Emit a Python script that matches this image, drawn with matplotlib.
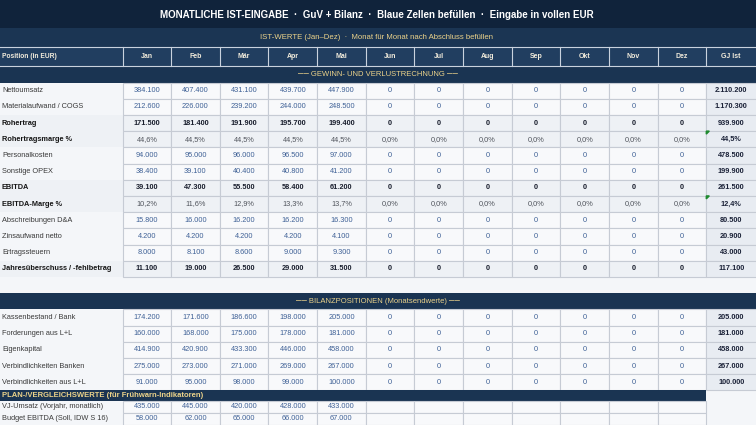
import matplotlib
matplotlib.use('Agg')
from matplotlib import pyplot as plt
from matplotlib.patches import Rectangle, Polygon

plt.rcParams['font.family'] = ['Liberation Sans', 'DejaVu Sans']

# Daten (Jan-Dez, Jun-Dez noch leer = 0)
months = ['Jan', 'Feb', 'Mär', 'Apr', 'Mai', 'Jun', 'Jul', 'Aug', 'Sep', 'Okt', 'Nov', 'Dez']

nettoumsatz = [384100, 407400, 431100, 439700, 447900, 0, 0, 0, 0, 0, 0, 0]
materialaufwand = [212600, 226000, 239200, 244000, 248500, 0, 0, 0, 0, 0, 0, 0]
rohertrag = [171500, 181400, 191900, 195700, 199400, 0, 0, 0, 0, 0, 0, 0]
rohertragsmarge = [44.6, 44.5, 44.5, 44.5, 44.5, 0, 0, 0, 0, 0, 0, 0]
personalkosten = [94000, 95000, 96000, 96500, 97000, 0, 0, 0, 0, 0, 0, 0]
sonstige_opex = [38400, 39100, 40400, 40800, 41200, 0, 0, 0, 0, 0, 0, 0]
ebitda = [39100, 47300, 55500, 58400, 61200, 0, 0, 0, 0, 0, 0, 0]
ebitda_marge = [10.2, 11.6, 12.9, 13.3, 13.7, 0, 0, 0, 0, 0, 0, 0]
abschreibungen = [15800, 16000, 16200, 16200, 16300, 0, 0, 0, 0, 0, 0, 0]
zinsaufwand = [4200, 4200, 4200, 4200, 4100, 0, 0, 0, 0, 0, 0, 0]
ertragssteuern = [8000, 8100, 8600, 9000, 9300, 0, 0, 0, 0, 0, 0, 0]
jahresueberschuss = [11100, 19000, 26500, 29000, 31500, 0, 0, 0, 0, 0, 0, 0]

gj_guv = [2110200, 1170300, 939900, 44.5, 478500, 199900, 261500, 12.4, 80500, 20900, 43000, 117100]

kasse = [174200, 171600, 186600, 198000, 205000, 0, 0, 0, 0, 0, 0, 0]
forderungen = [160000, 168000, 175000, 178000, 181000, 0, 0, 0, 0, 0, 0, 0]
eigenkapital = [414900, 420900, 433300, 446000, 458000, 0, 0, 0, 0, 0, 0, 0]
vb_banken = [275000, 273000, 271000, 269000, 267000, 0, 0, 0, 0, 0, 0, 0]
vb_ll = [91000, 95000, 98000, 99000, 100000, 0, 0, 0, 0, 0, 0, 0]

gj_bilanz = [205000, 181000, 458000, 267000, 100000]

vj_umsatz = [435000, 445000, 420000, 428000, 433000]
budget_ebitda = [58000, 62000, 65000, 66000, 67000]

# (label, werte, art)  art: in = Eingabe, sum = Summe, pct = Prozent
guv_rows = [
    ('Nettoumsatz', nettoumsatz, 'in'),
    ('Materialaufwand / COGS', materialaufwand, 'in'),
    ('Rohertrag', rohertrag, 'sum'),
    ('Rohertragsmarge %', rohertragsmarge, 'pct'),
    ('Personalkosten', personalkosten, 'in'),
    ('Sonstige OPEX', sonstige_opex, 'in'),
    ('EBITDA', ebitda, 'sum'),
    ('EBITDA-Marge %', ebitda_marge, 'pct'),
    ('Abschreibungen D&A', abschreibungen, 'in'),
    ('Zinsaufwand netto', zinsaufwand, 'in'),
    ('Ertragssteuern', ertragssteuern, 'in'),
    ('Jahresüberschuss / -fehlbetrag', jahresueberschuss, 'sum'),
]
bilanz_rows = [
    ('Kassenbestand / Bank', kasse),
    ('Forderungen aus L+L', forderungen),
    ('Eigenkapital', eigenkapital),
    ('Verbindlichkeiten Banken', vb_banken),
    ('Verbindlichkeiten aus L+L', vb_ll),
]
plan_rows = [
    ('VJ-Umsatz (Vorjahr, monatlich)', vj_umsatz),
    ('Budget EBITDA (Soll, IDW S 16)', budget_ebitda),
]

# Farben
c_title = '#10233b'
c_sub = '#1b3553'
c_head = '#213e60'
c_sect = '#1a3452'
c_gold = '#ecd38a'
c_bg = '#f4f6f9'
c_cell = '#f8f9fb'
c_cell_sum = '#eef1f5'
c_gj = '#e8ecf2'
c_grid = '#c6cbd4'
c_blue = '#3f6196'


def fmt_num(v):
    return f'{v:,.0f}'.replace(',', '.')


def fmt_pct(v):
    return f'{v:.1f}%'.replace('.', ',')


W, H = 756, 425
fig = plt.figure(figsize=(W / 100, H / 100), dpi=100)
fig.patch.set_facecolor(c_bg)
ax = fig.add_axes([0, 0, 1, 1])
ax.set_xlim(0, W)
ax.set_ylim(H, 0)
ax.axis('off')

label_w = 122.5
col_w = (706.3 - label_w) / 12
col_x = [label_w + i * col_w for i in range(12)]
gj_x = 706.3
gj_w = W - gj_x
row_h = 16.2
fs = 5.3


def rect(x, y, w, h, fc, ec='none', lw=0.0):
    ax.add_patch(Rectangle((x, y), w, h, facecolor=fc, edgecolor=ec, linewidth=lw))


# Kopfzeilen
rect(0, 0, W, 28, c_title)
ax.text(377, 14.5, 'MONATLICHE IST-EINGABE  ·  GuV + Bilanz  ·  Blaue Zellen befüllen  ·  Eingabe in vollen EUR',
        color='white', fontsize=7.0, fontweight='bold', ha='center', va='center')
rect(0, 28, W, 19, c_sub)
ax.text(376, 37.8, 'IST-WERTE (Jan–Dez)  ·  Monat für Monat nach Abschluss befüllen',
        color=c_gold, fontsize=5.6, ha='center', va='center')
rect(0, 47, W, 19.3, c_head)
ax.plot([0, W], [47.3, 47.3], color='#c9d2de', lw=0.8)
ax.plot([0, W], [66, 66], color='#c9d2de', lw=0.8)
ax.text(2, 56.7, 'Position (in EUR)', color='#f2ecdc', fontsize=4.8, fontweight='bold', va='center')
for i, m in enumerate(months + ['GJ Ist']):
    x = col_x[i] if i < 12 else gj_x
    w = col_w if i < 12 else gj_w
    ax.plot([x, x], [47.3, 66], color='#c9d2de', lw=0.8)
    ax.text(x + w / 2, 56.7, m, color='#f2ecdc', fontsize=5.0, fontweight='bold', ha='center', va='center')


def section(y, h, text):
    rect(0, y, W, h, c_sect)
    ax.text(378, y + h / 2 + 0.3, text, color=c_gold, fontsize=5.5, ha='center', va='center')


def data_row(y, h, label, vals, kind, gj=None):
    bold = kind in ('sum', 'pct')
    lab_bg = c_cell_sum if bold else c_bg
    rect(0, y, label_w, h, lab_bg)
    ax.text(2, y + h / 2, label, fontsize=fs, va='center',
            color='#151515' if bold else '#3a3a3a', fontweight='bold' if bold else 'normal')
    for i in range(12):
        fc = c_cell_sum if bold else c_cell
        rect(col_x[i], y, col_w, h, fc, c_grid, 0.8)
        if i >= len(vals) or vals[i] is None:
            continue
        if kind == 'pct':
            s, col, fw = fmt_pct(vals[i]), '#50545c', 'normal'
        elif kind == 'sum':
            s, col, fw = fmt_num(vals[i]), '#1a1f2e', 'bold'
        else:
            s, col, fw = fmt_num(vals[i]), c_blue, 'normal'
        ax.text(col_x[i] + col_w / 2, y + h / 2, s, fontsize=fs, color=col, fontweight=fw,
                ha='center', va='center')
    if gj is not None:
        rect(gj_x, y, gj_w + 2, h, c_gj, c_grid, 0.8)
        s = fmt_pct(gj) if kind == 'pct' else fmt_num(gj)
        ax.text(gj_x + gj_w / 2, y + h / 2, s, fontsize=fs, color='#1b2238', fontweight='bold',
                ha='center', va='center')


section(66.3, 16.2, '── GEWINN- UND VERLUSTRECHNUNG ──')
y0 = 82.5
for k, (lab, vals, kind) in enumerate(guv_rows):
    data_row(y0 + k * row_h, row_h, lab, vals, kind, gj_guv[k])
    if kind == 'pct':
        yy = y0 + k * row_h
        ax.add_patch(Polygon([[gj_x, yy], [gj_x + 3, yy], [gj_x, yy + 3]], closed=True, color='#1e8a2e'))

section(293.2, 16.1, '── BILANZPOSITIONEN (Monatsendwerte) ──')
y1 = 309.3
for k, (lab, vals) in enumerate(bilanz_rows):
    data_row(y1 + k * row_h, row_h, lab, vals, 'in', gj_bilanz[k])

# Plan-/Vergleichswerte
yp = y1 + 5 * row_h
rect(0, yp, gj_x, 10.7, c_sect)
ax.text(2, yp + 5.6, 'PLAN-/VERGLEICHSWERTE (für Frühwarn-Indikatoren)', color=c_gold,
        fontsize=5.5, fontweight='bold', va='center')
for k, (lab, vals) in enumerate(plan_rows):
    data_row(yp + 10.7 + k * 11.8, 11.8, lab, vals, 'in')

fig.savefig('out.png', dpi=100, facecolor=c_bg)
